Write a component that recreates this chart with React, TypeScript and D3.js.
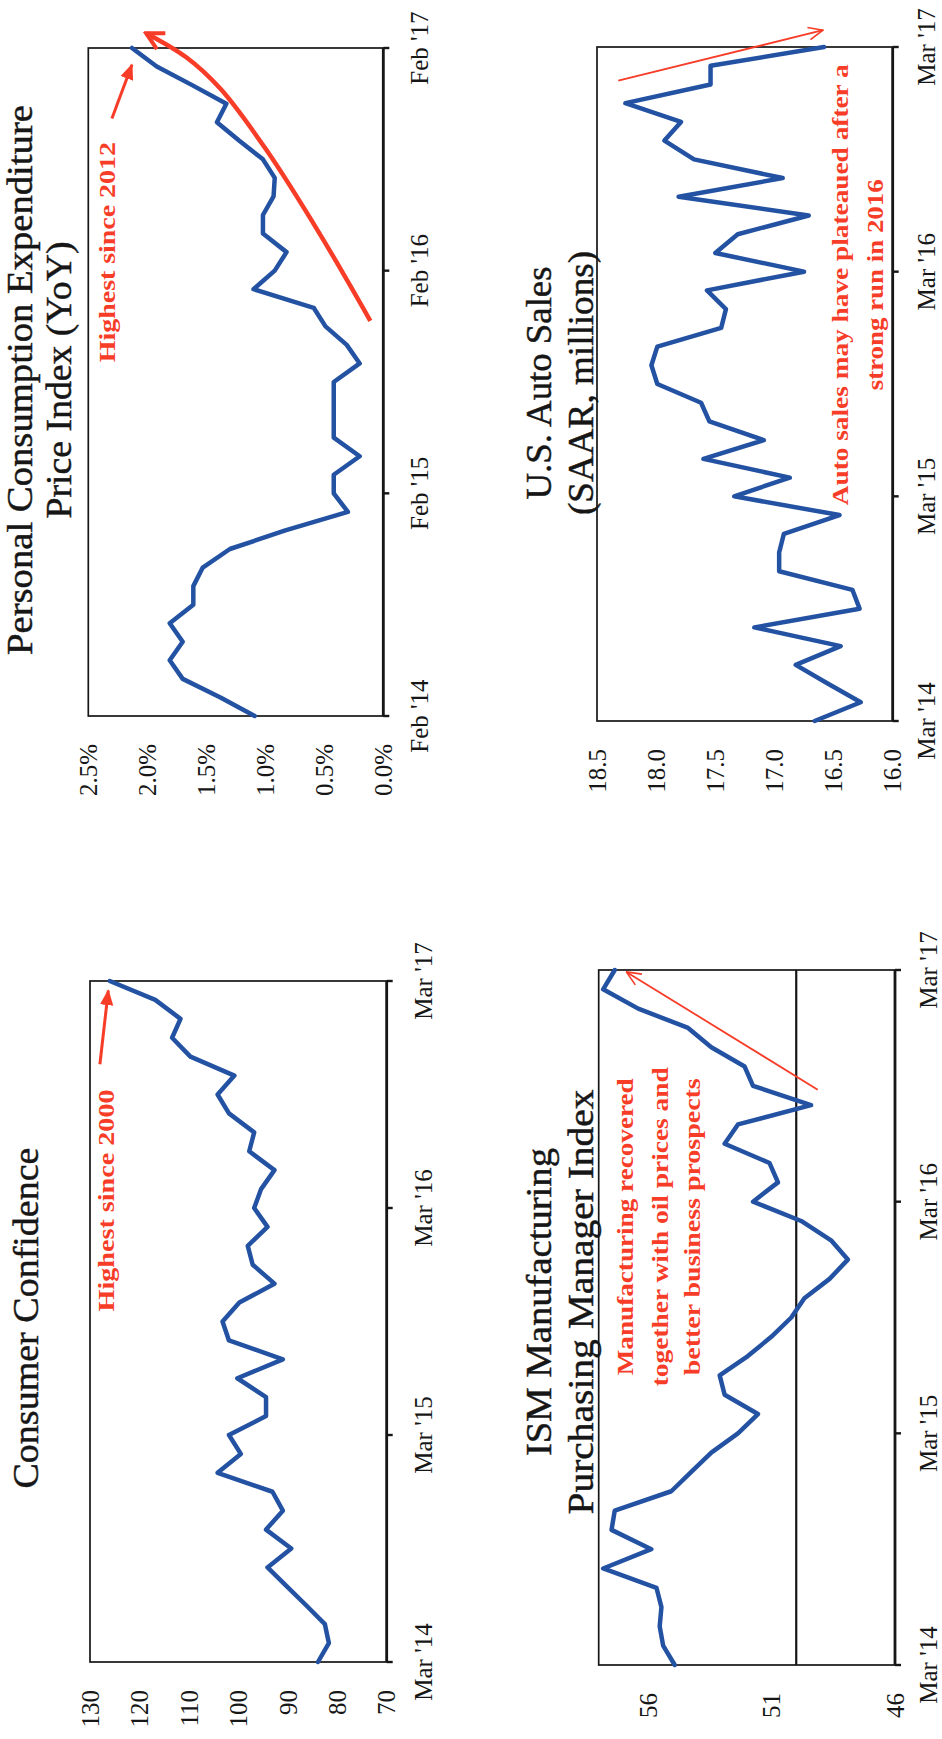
import React from "react";
import * as d3 from "d3";

const PAGE_W = 942;
const PAGE_H = 1739;
const SERIF = "'Liberation Serif', 'Times New Roman', Times, serif";
const BLUE = "#2452a3";
const RED = "#f73c28";
const INK = "#161616";

// Month offsets of the year ticks (series are monthly, 37 points)
const yearTicks = [0, 12, 24, 36];
const febLabels = ["Feb '14", "Feb '15", "Feb '16", "Feb '17"];
const marLabels = ["Mar '14", "Mar '15", "Mar '16", "Mar '17"];

// Conference Board consumer confidence, Mar 2014 - Mar 2017
const consumerConfidence = [
  83.9, 81.7, 82.5, 86.3, 90.2, 94.1, 89.3, 94.4, 91.0, 93.1, 104.2, 99.5, 101.9,
  94.4, 94.4, 100.2, 91.0, 101.9, 103.2, 99.8, 92.7, 97.1, 98.1, 94.1, 96.8, 95.4,
  92.7, 97.8, 96.8, 101.9, 104.2, 100.8, 109.7, 113.4, 111.7, 116.8, 126.0,
];
// PCE price index, year over year %, Feb 2014 - Feb 2017
const pceYoY = [
  1.09, 1.38, 1.7, 1.81, 1.7, 1.81, 1.61, 1.61, 1.53, 1.3, 0.83, 0.3, 0.42, 0.42,
  0.2, 0.42, 0.42, 0.42, 0.42, 0.2, 0.31, 0.49, 0.59, 1.1, 0.92, 0.82, 1.02, 1.02,
  0.93, 0.92, 1.02, 1.22, 1.41, 1.33, 1.62, 1.92, 2.13,
];
// ISM manufacturing PMI, Mar 2014 - Mar 2017
const ismPmi = [
  54.92, 55.39, 55.53, 55.46, 55.66, 57.82, 55.87, 57.48, 57.35, 55.06, 54.25,
  53.44, 52.36, 51.55, 52.9, 53.1, 51.96, 51.01, 50.2, 49.67, 48.65, 47.91, 48.59,
  49.8, 51.75, 50.74, 51.08, 52.9, 52.36, 49.4, 51.75, 52.09, 53.44, 54.38, 56.4,
  57.82, 57.35,
];
// U.S. light vehicle sales, SAAR millions, Mar 2014 - Mar 2017
const autoSales = [
  16.66, 16.27, 16.55, 16.82, 16.44, 17.17, 16.28, 16.34, 16.96, 16.96, 16.92,
  16.45, 17.34, 16.87, 17.6, 17.09, 17.55, 17.62, 17.99, 18.04, 17.99, 17.45,
  17.41, 17.57, 16.75, 17.5, 17.31, 16.71, 17.81, 16.93, 17.68, 17.93, 17.79,
  18.26, 17.54, 17.54, 16.58,
];

const ccTicks = [70, 80, 90, 100, 110, 120, 130];
const pceTicks = [0, 0.5, 1, 1.5, 2, 2.5];
const ismTicks = [46, 51, 56];
const autoTicks = [16, 16.5, 17, 17.5, 18, 18.5];

// Annotation anchors, as [month, value]
const pceTrend: [number, number][] = [
  [21.3, 0.11], [26, 0.54], [30.5, 0.99], [33.8, 1.38], [35.5, 1.67], [36.8, 2.01],
];
const pcePeakArrow: [number, number][] = [[32.2, 2.3], [35.1, 2.13]];
const ccPeakArrow: [number, number][] = [[31.6, 128.0], [35.5, 126.3]];
const ismArrow: [number, number][] = [[29.8, 49.13], [35.9, 56.88]];
const autoArrow: [number, number][] = [[34.2, 18.32], [36.9, 16.59]];

type Scale = d3.ScaleLinear<number, number>;

interface PanelProps {
  left: number;
  right: number;
  top: number;
  bottom: number;
  domain: [number, number];
  ticks: number[];
  fmt: (v: number) => string;
  values: number[];
  timeLabels: string[];
  labelGap: number;
  title: { text: string; y: number; len: number }[];
  titleX: number;
  refLine?: number;
  annotate?: (x: Scale, y: Scale) => React.ReactNode;
}

function Panel(p: PanelProps) {
  const x = d3.scaleLinear().domain([0, p.values.length - 1]).range([p.left, p.right]);
  const y = d3.scaleLinear().domain(p.domain).range([p.bottom, p.top]);
  const line = d3
    .line<number>()
    .x((_, i) => x(i))
    .y((d) => y(d));
  return (
    <g>
      {p.title.map((t) => (
        <text
          key={t.text}
          x={p.titleX}
          y={t.y}
          textAnchor="middle"
          fontSize={36}
          fill={INK}
          stroke={INK}
          strokeWidth={0.45}
          textLength={t.len}
          lengthAdjust="spacingAndGlyphs"
        >
          {t.text}
        </text>
      ))}
      <rect
        x={p.left}
        y={p.top}
        width={p.right - p.left}
        height={p.bottom - p.top}
        fill="none"
        stroke={INK}
        strokeWidth={1.7}
      />
      {p.refLine !== undefined && (
        <line
          x1={p.left}
          x2={p.right}
          y1={y(p.refLine)}
          y2={y(p.refLine)}
          stroke={INK}
          strokeWidth={2.2}
        />
      )}
      <line x1={p.left} x2={p.right} y1={p.bottom} y2={p.bottom} stroke={INK} strokeWidth={2.8} />
      {yearTicks.map((m, i) => (
        <g key={m}>
          <line x1={x(m)} x2={x(m)} y1={p.bottom} y2={p.bottom + 6} stroke={INK} strokeWidth={2.4} />
          <text x={x(m)} y={p.bottom + p.labelGap} textAnchor="middle" fontSize={25} fill={INK}>
            {p.timeLabels[i]}
          </text>
        </g>
      ))}
      {p.ticks.map((v) => (
        <text key={v} x={p.left - 28} y={y(v)} dy="0.35em" textAnchor="end" fontSize={25} fill={INK}>
          {p.fmt(v)}
        </text>
      ))}
      <path
        d={line(p.values) ?? ""}
        fill="none"
        stroke={BLUE}
        strokeWidth={4.5}
        strokeLinejoin="round"
        strokeLinecap="round"
      />
      {p.annotate && p.annotate(x, y)}
    </g>
  );
}

function Note(props: { x: number; y: number; text: string; len: number }) {
  return (
    <text
      x={props.x}
      y={props.y}
      textAnchor="middle"
      fill={RED}
      fontWeight="bold"
      fontSize={24}
      textLength={props.len}
      lengthAdjust="spacingAndGlyphs"
    >
      {props.text}
    </text>
  );
}

function Arrow(props: { pts: [number, number][]; x: Scale; y: Scale; width: number; head: string }) {
  const [[m0, v0], [m1, v1]] = props.pts;
  return (
    <line
      x1={props.x(m0)}
      y1={props.y(v0)}
      x2={props.x(m1)}
      y2={props.y(v1)}
      stroke={RED}
      strokeWidth={props.width}
      markerEnd={`url(#${props.head})`}
    />
  );
}

export default function App() {
  const trendLine = (x: Scale, y: Scale) =>
    d3
      .line<[number, number]>()
      .x((d) => x(d[0]))
      .y((d) => y(d[1]))
      .curve(d3.curveCatmullRom)(pceTrend) ?? "";

  return (
    <svg
      width={PAGE_W}
      height={PAGE_H}
      viewBox={`0 0 ${PAGE_W} ${PAGE_H}`}
      style={{ position: "absolute", left: 0, top: 0, display: "block" }}
      fontFamily={SERIF}
    >
      <rect width={PAGE_W} height={PAGE_H} fill="#fff" />
      <defs>
        <marker
          id="headSolid"
          viewBox="0 0 12 10"
          refX="11"
          refY="5"
          markerWidth="16"
          markerHeight="14"
          markerUnits="userSpaceOnUse"
          orient="auto"
        >
          <path d="M0,0 L12,5 L0,10 Z" fill={RED} />
        </marker>
        <marker
          id="headThin"
          viewBox="0 0 20 20"
          refX="19"
          refY="10"
          markerWidth="18"
          markerHeight="18"
          markerUnits="userSpaceOnUse"
          orient="auto"
        >
          <path d="M3,3 L19,10 L3,17" fill="none" stroke={RED} strokeWidth="1.8" />
        </marker>
        <marker
          id="headBold"
          viewBox="0 0 24 24"
          refX="21"
          refY="12"
          markerWidth="24"
          markerHeight="24"
          markerUnits="userSpaceOnUse"
          orient="auto"
        >
          <path d="M4,3 L21,12 L4,21" fill="none" stroke={RED} strokeWidth="4" />
        </marker>
      </defs>

      {/* landscape sheet turned a quarter turn counter-clockwise */}
      <g transform={`translate(0,${PAGE_H}) rotate(-90)`}>
        <Panel
          left={77}
          right={758}
          top={90}
          bottom={386.7}
          domain={[70, 130]}
          ticks={ccTicks}
          fmt={(v) => d3.format("d")(v)}
          values={consumerConfidence}
          timeLabels={marLabels}
          labelGap={45}
          titleX={421}
          title={[{ text: "Consumer Confidence", y: 38, len: 341 }]}
          annotate={(x, y) => (
            <g>
              <Arrow pts={ccPeakArrow} x={x} y={y} width={3} head="headSolid" />
              <Note x={x(24.4)} y={y(125.1)} text="Highest since 2000" len={222} />
            </g>
          )}
        />
        <Panel
          left={1023}
          right={1691}
          top={88.3}
          bottom={383.3}
          domain={[0, 2.5]}
          ticks={pceTicks}
          fmt={(v) => d3.format(".1f")(v) + "%"}
          values={pceYoY}
          timeLabels={febLabels}
          labelGap={45}
          titleX={1359}
          title={[
            { text: "Personal Consumption Expenditure", y: 32, len: 550 },
            { text: "Price Index (YoY)", y: 71, len: 277 },
          ]}
          annotate={(x, y) => (
            <g>
              <path
                d={trendLine(x, y)}
                fill="none"
                stroke={RED}
                strokeWidth={4.5}
                markerEnd="url(#headBold)"
              />
              <Arrow pts={pcePeakArrow} x={x} y={y} width={3} head="headSolid" />
              <Note x={x(25)} y={y(2.27)} text="Highest since 2012" len={220} />
            </g>
          )}
        />
        <Panel
          left={74}
          right={769}
          top={598.7}
          bottom={895}
          domain={[46, 58]}
          ticks={ismTicks}
          fmt={(v) => d3.format("d")(v)}
          values={ismPmi}
          timeLabels={marLabels}
          labelGap={42}
          titleX={437}
          refLine={50}
          title={[
            { text: "ISM Manufacturing", y: 551, len: 308 },
            { text: "Purchasing Manager Index", y: 593, len: 425 },
          ]}
          annotate={(x, y) => (
            <g>
              <Arrow pts={ismArrow} x={x} y={y} width={1.8} head="headThin" />
              <Note x={x(22.7)} y={y(56.6)} text="Manufacturing recovered" len={297} />
              <Note x={x(22.7)} y={y(55.18)} text="together with oil prices and" len={319} />
              <Note x={x(22.7)} y={y(53.88)} text="better business prospects" len={297} />
            </g>
          )}
        />
        <Panel
          left={1018}
          right={1692}
          top={597}
          bottom={892.7}
          domain={[16, 18.5]}
          ticks={autoTicks}
          fmt={(v) => d3.format(".1f")(v)}
          values={autoSales}
          timeLabels={marLabels}
          labelGap={42}
          titleX={1356}
          title={[
            { text: "U.S. Auto Sales", y: 551, len: 233 },
            { text: "(SAAR, millions)", y: 593, len: 264 },
          ]}
          annotate={(x, y) => (
            <g>
              <Arrow pts={autoArrow} x={x} y={y} width={1.8} head="headThin" />
              <Note x={x(23.3)} y={y(16.38)} text="Auto sales may have plateaued after a" len={441} />
              <Note x={x(23.3)} y={y(16.08)} text="strong run in 2016" len={211} />
            </g>
          )}
        />
      </g>
    </svg>
  );
}
